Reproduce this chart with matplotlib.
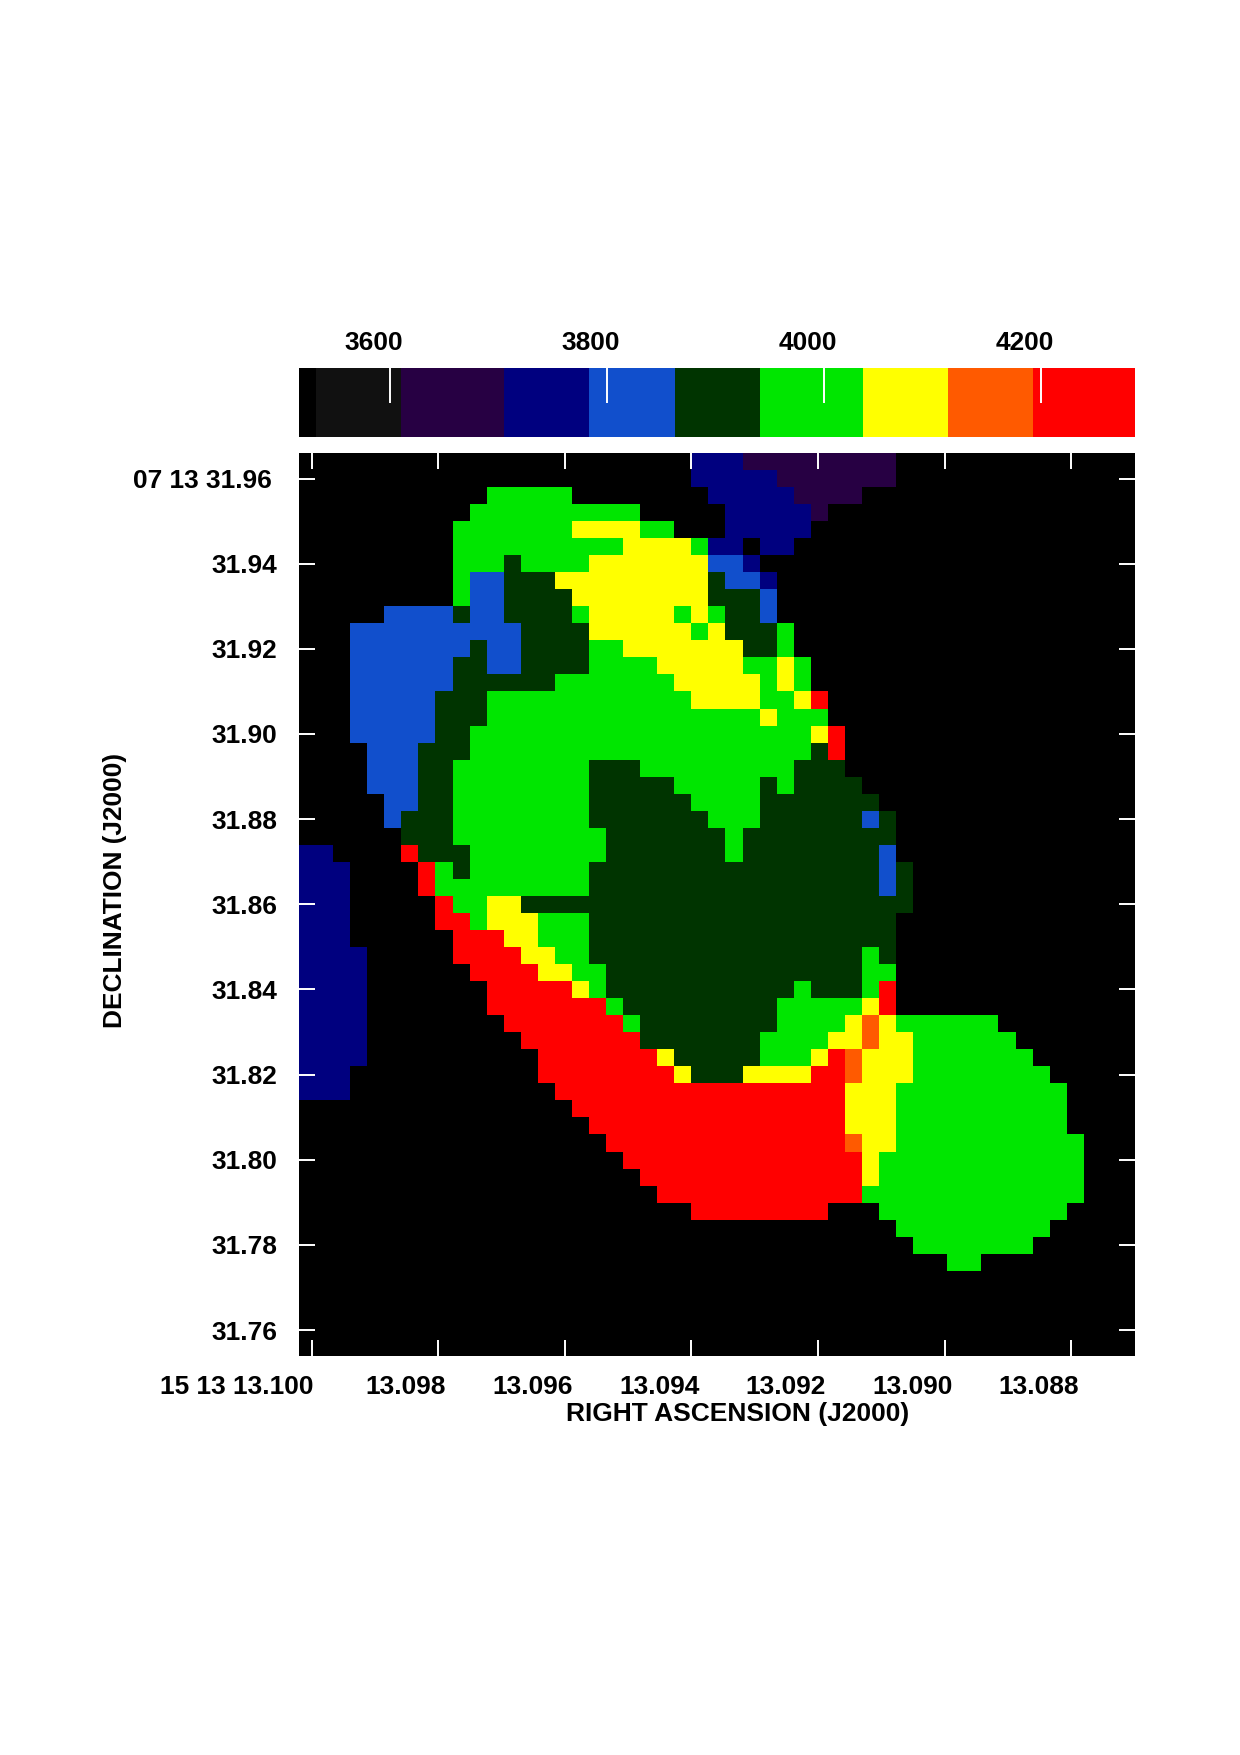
import numpy as np
import matplotlib
matplotlib.use("Agg")
import matplotlib.pyplot as plt
from matplotlib.colors import ListedColormap, BoundaryNorm
from matplotlib.transforms import ScaledTranslation

plt.rcParams['font.family'] = ['Liberation Sans', 'DejaVu Sans']
plt.rcParams['font.weight'] = 'bold'

# Contour bands of the velocity scale (km/s) and the colour assigned to each
band_edges = [3516.5, 3532, 3610.6, 3705, 3784, 3862.6, 3941, 4036, 4114.6, 4193, 4287]
band_colors = ['#000000', '#111111', '#270043', '#00007f', '#114fcc',
               '#003400', '#00e600', '#ffff00', '#ff5a00', '#ff0000']

# Representative velocity for each letter used in the map rows
level_values = {'K': np.nan, 'P': 3660.0, 'N': 3745.0, 'B': 3825.0, 'G': 3900.0,
                'L': 3990.0, 'Y': 4075.0, 'O': 4155.0, 'R': 4240.0}

# Map rows from north to south; "11L" means level L starts at column 11
map_rows = [
    "23N 26P 35K",
    "23N 28P 35K",
    "11L 16K 24N 29P 33K",
    "10L 20K 25N 30P 31K",
    "9L 16Y 20L 22K 25N 30K",
    "9L 19Y 23L 24N 26K 27N 29K",
    "9L 12G 13L 17Y 24B 26N 27K",
    "9L 10B 12G 15Y 24G 25B 27N 28K",
    "9L 10B 12G 16Y 24G 27B 28K",
    "5B 9G 10B 12G 16L 17Y 22L 23Y 24L 25G 27B 28K",
    "3B 13G 17Y 23L 24Y 25G 28L 29K",
    "3B 10G 11B 13G 17L 19Y 26G 28L 29K",
    "3B 9G 11B 13G 17L 21Y 26L 28Y 29L 30K",
    "3B 9G 15L 22Y 27L 28Y 29L 30K",
    "3B 8G 11L 23Y 27L 29Y 30R 31K",
    "3B 8G 11L 27Y 28L 31K",
    "3B 8G 10L 30Y 31R 32K",
    "4B 7G 10L 30G 31R 32K",
    "4B 7G 9L 17G 20L 29G 32K",
    "4B 7G 9L 17G 22L 27G 28L 29G 33K",
    "5B 7G 9L 17G 23L 27G 34K",
    "5B 6G 9L 17G 24L 27G 33B 34G 35K",
    "6G 9L 18G 25L 26G 35K",
    "0N 2K 6R 7G 10L 18G 25L 26G 34B 35K",
    "0N 3K 7R 8L 9G 10L 17G 34B 35G 36K",
    "0N 3K 7R 8L 17G 34B 35G 36K",
    "0N 3K 8R 9L 11Y 13G 36K",
    "0N 3K 8R 10L 11Y 14L 17G 35K",
    "0N 3K 9R 12Y 14L 17G 35K",
    "0N 4K 9R 13Y 15L 17G 33L 34G 35K",
    "0N 4K 10R 14Y 16L 18G 33L 35K",
    "0N 4K 11R 16Y 17L 18G 29L 30G 33L 34R 35K",
    "0N 4K 11R 18L 19G 28L 33Y 34R 35K",
    "0N 4K 12R 19L 20G 28L 32Y 33O 34Y 35L 41K",
    "0N 4K 13R 20G 27L 31Y 33O 34Y 36L 42K",
    "0N 4K 14R 21Y 22G 27L 30Y 31R 32O 33Y 36L 43K",
    "0N 3K 14R 22Y 23G 26Y 30R 32O 33Y 36L 44K",
    "0N 3K 15R 32Y 35L 45K",
    "16R 32Y 35L 45K",
    "17R 32Y 35L 45K",
    "18R 32O 33Y 35L 46K",
    "19R 33Y 34L 46K",
    "20R 33Y 34L 46K",
    "21R 33L 46K",
    "23R 31K 34L 45K",
    "35L 44K",
    "36L 43K",
    "38L 40K",
    "", "", "", "", "",
]

n_cols = 49
ra_limits = (13.1002, 13.08699)
dec_limits = (31.7539, 31.966)

ra_ticks = [13.100, 13.098, 13.096, 13.094, 13.092, 13.090, 13.088]
ra_labels = ['15 13 13.100', '13.098', '13.096', '13.094', '13.092', '13.090', '13.088']
dec_ticks = [31.96, 31.94, 31.92, 31.90, 31.88, 31.86, 31.84, 31.82, 31.80, 31.78, 31.76]
dec_labels = ['07 13 31.96', '31.94', '31.92', '31.90', '31.88', '31.86', '31.84',
              '31.82', '31.80', '31.78', '31.76']
bar_ticks = [3600, 3800, 4000, 4200]


def expand_row(text):
    """Turn a run description into one row of velocities."""
    row = np.full(n_cols, np.nan)
    runs = text.split()
    for i, run in enumerate(runs):
        start = int(run[:-1])
        stop = int(runs[i + 1][:-1]) if i + 1 < len(runs) else n_cols
        row[start:stop] = level_values[run[-1]]
    return row


velocity = np.array([expand_row(r) for r in map_rows])

W, H = 1240, 1755
dpi = 100
fig = plt.figure(figsize=(W / dpi, H / dpi), dpi=dpi, facecolor='white')


def px_axes(x0, x1, y0, y1):
    return fig.add_axes([x0 / W, 1 - y1 / H, (x1 - x0) / W, (y1 - y0) / H])


def shift_px(dx):
    return ScaledTranslation(dx / dpi, 0, fig.dpi_scale_trans)


cmap = ListedColormap(band_colors)
cmap.set_bad('black')
norm = BoundaryNorm(band_edges, cmap.N)

TICK_LEN = 11.5
TICK_W = 1.4
LABEL_SIZE = 18.9

# Velocity map
ax = px_axes(299, 1135, 453, 1356)
ax.imshow(velocity, cmap=cmap, norm=norm, aspect='auto', interpolation='nearest',
          origin='upper', extent=(ra_limits[0], ra_limits[1], dec_limits[0], dec_limits[1]))
ax.set_xlim(*ra_limits)
ax.set_ylim(*dec_limits)
ax.set_xticks(ra_ticks, ra_labels)
ax.set_yticks(dec_ticks, dec_labels)
ax.tick_params(axis='both', which='major', direction='in', length=TICK_LEN, width=TICK_W,
               color='white', top=True, right=True, labelsize=LABEL_SIZE)
ax.tick_params(axis='x', pad=13.7)
ax.tick_params(axis='y', pad=15.8)
for spine in ax.spines.values():
    spine.set_visible(False)
for i, label in enumerate(ax.get_xticklabels()):
    label.set_ha('right')
    label.set_transform(label.get_transform() + shift_px(2 if i == 0 else 8))
first_dec = ax.get_yticklabels()[0]
first_dec.set_transform(first_dec.get_transform() + shift_px(-5))

ax.set_xlabel('RIGHT ASCENSION (J2000)', fontsize=LABEL_SIZE + 0.1, fontweight='bold', va='top')
ax.xaxis.set_label_coords((738 - 299) / 836, (1356 - 1402) / 903)
ax.set_ylabel('DECLINATION (J2000)', fontsize=LABEL_SIZE, fontweight='bold', va='center')
ax.yaxis.set_label_coords((115 - 299) / 836, (1356 - 890) / 903)

# Wedge showing the velocity bands
cax = px_axes(299, 1135, 367.7, 436.7)
cax.pcolormesh(band_edges, [0, 1], [[0.5 * (a + b) for a, b in zip(band_edges[:-1], band_edges[1:])]],
               cmap=cmap, norm=norm, antialiased=False)
cax.set_xlim(band_edges[0], band_edges[-1])
cax.set_ylim(0, 1)
cax.set_yticks([])
cax.set_xticks(bar_ticks, [str(v) for v in bar_ticks])
cax.tick_params(axis='x', direction='in', length=25.2, width=TICK_W, color='white', bottom=False,
                top=True, labelbottom=False, labeltop=True, pad=9.5, labelsize=LABEL_SIZE)
for spine in cax.spines.values():
    spine.set_visible(False)
for label in cax.get_xticklabels():
    label.set_transform(label.get_transform() + shift_px(-16))

fig.savefig('out.png', dpi=dpi, facecolor='white')
